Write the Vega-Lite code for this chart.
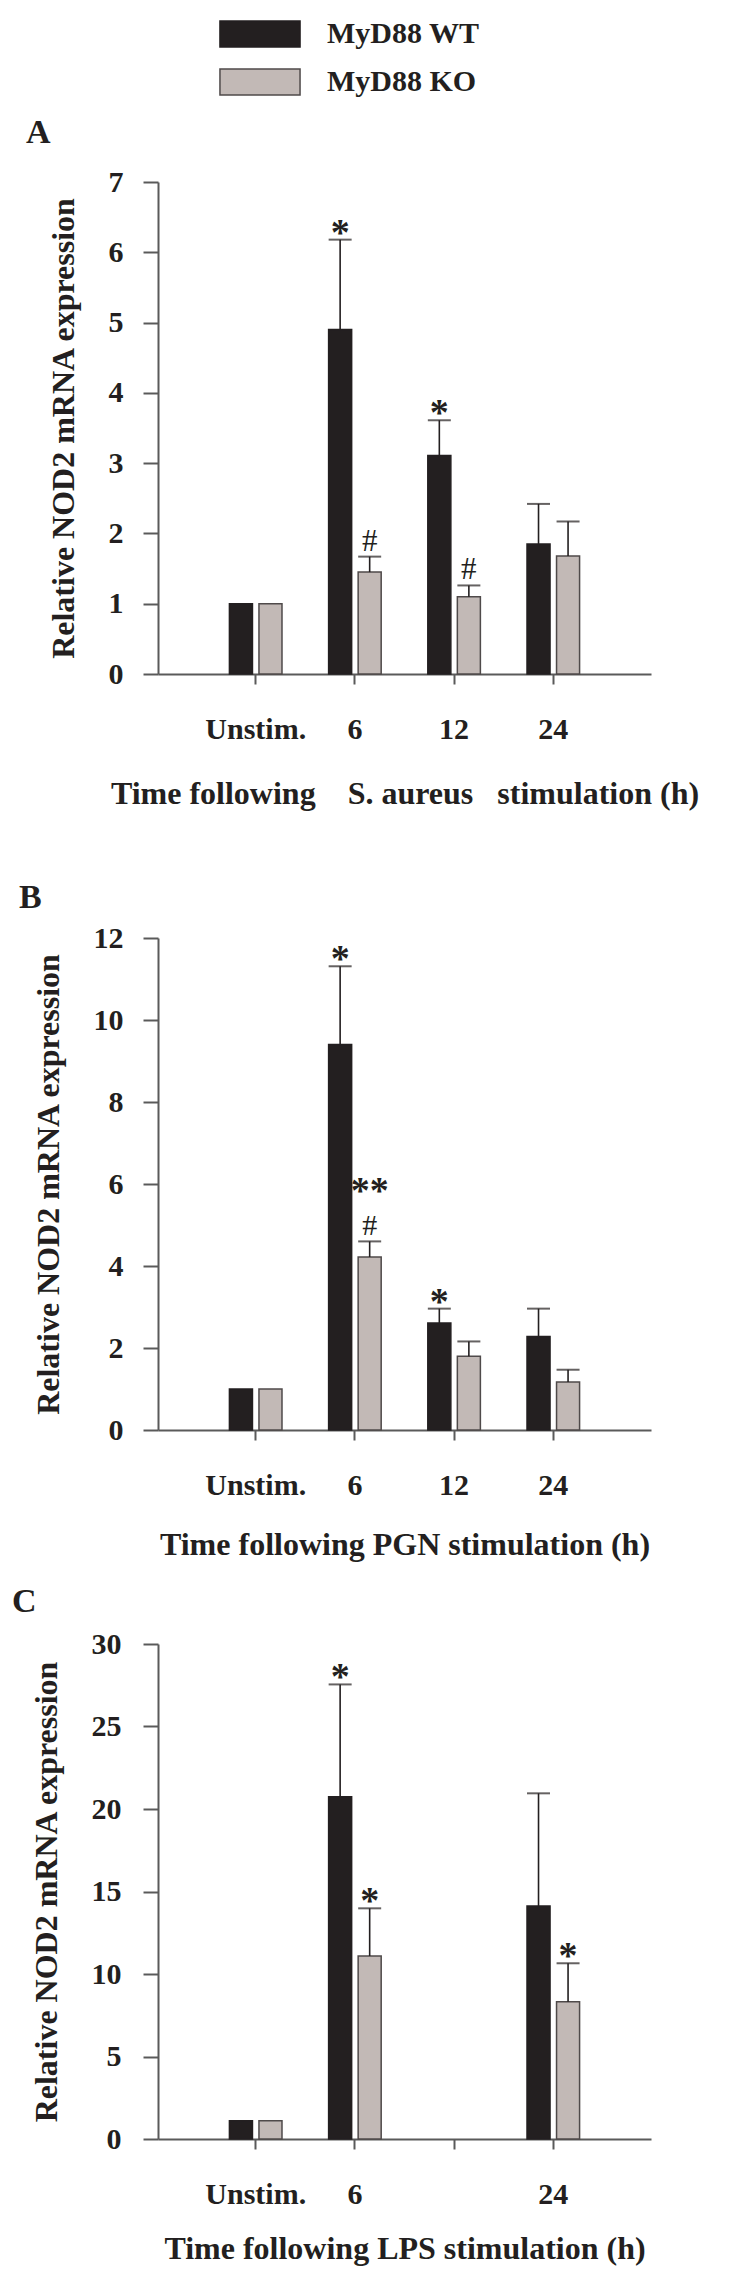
{
  "$schema": "https://vega.github.io/schema/vega-lite/v6.json",
  "background": "white",
  "padding": {"left": 12, "top": 19, "right": 5, "bottom": 5},
  "config": {
    "view": {"stroke": null},
    "font": "Liberation Serif",
    "axis": {
      "grid": false,
      "domainColor": "#5a5a5a",
      "domainWidth": 2,
      "tickColor": "#5a5a5a",
      "tickWidth": 2,
      "labelFont": "Liberation Serif",
      "labelFontWeight": "bold",
      "labelFontSize": 30,
      "labelColor": "#231f20",
      "titleFont": "Liberation Serif",
      "titleFontWeight": "bold",
      "titleFontSize": 32,
      "titleColor": "#231f20"
    },
    "title": {"font": "Liberation Serif", "fontWeight": "bold", "fontSize": 34, "color": "#231f20", "anchor": "start", "frame": "group"}
  },
  "datasets": {
    "d": [
      {"panel": "A", "time": "Unstim.", "group": "MyD88 WT", "value": 1.0},
      {"panel": "A", "time": "Unstim.", "group": "MyD88 KO", "value": 1.0},
      {"panel": "A", "time": "6", "group": "MyD88 WT", "value": 4.9, "upper": 6.18, "star": "*"},
      {"panel": "A", "time": "6", "group": "MyD88 KO", "value": 1.45, "upper": 1.67, "hash": "#"},
      {"panel": "A", "time": "12", "group": "MyD88 WT", "value": 3.11, "upper": 3.61, "star": "*"},
      {"panel": "A", "time": "12", "group": "MyD88 KO", "value": 1.1, "upper": 1.26, "hash": "#"},
      {"panel": "A", "time": "24", "group": "MyD88 WT", "value": 1.85, "upper": 2.42},
      {"panel": "A", "time": "24", "group": "MyD88 KO", "value": 1.68, "upper": 2.17},
      {"panel": "B", "time": "Unstim.", "group": "MyD88 WT", "value": 1.0},
      {"panel": "B", "time": "Unstim.", "group": "MyD88 KO", "value": 1.0},
      {"panel": "B", "time": "6", "group": "MyD88 WT", "value": 9.4, "upper": 11.31, "star": "*"},
      {"panel": "B", "time": "6", "group": "MyD88 KO", "value": 4.22, "upper": 4.6, "hash": "#", "star": "**"},
      {"panel": "B", "time": "12", "group": "MyD88 WT", "value": 2.61, "upper": 2.96, "star": "*"},
      {"panel": "B", "time": "12", "group": "MyD88 KO", "value": 1.8, "upper": 2.16},
      {"panel": "B", "time": "24", "group": "MyD88 WT", "value": 2.28, "upper": 2.96},
      {"panel": "B", "time": "24", "group": "MyD88 KO", "value": 1.17, "upper": 1.47},
      {"panel": "C", "time": "Unstim.", "group": "MyD88 WT", "value": 1.1},
      {"panel": "C", "time": "Unstim.", "group": "MyD88 KO", "value": 1.1},
      {"panel": "C", "time": "6", "group": "MyD88 WT", "value": 20.75, "upper": 27.55, "star": "*"},
      {"panel": "C", "time": "6", "group": "MyD88 KO", "value": 11.09, "upper": 13.98, "star": "*"},
      {"panel": "C", "time": "24", "group": "MyD88 WT", "value": 14.12, "upper": 20.95},
      {"panel": "C", "time": "24", "group": "MyD88 KO", "value": 8.32, "upper": 10.65, "star": "*"}
    ]
  },
  "data": {"name": "d"},
  "spacing": 264,
  "bounds": "flush",
  "resolve": {"scale": {"x": "independent", "y": "independent", "xOffset": "independent", "fill": "shared", "stroke": "shared"}, "legend": {"fill": "shared"}},
  "vconcat": [
    {
      "title": {"text": "A", "dx": -132, "offset": 17},
      "width": 493,
      "height": 492,
      "transform": [{"filter": "datum.panel === 'A'"}],
      "encoding": {
        "x": {"field": "time", "type": "nominal", "scale": {"domain": ["Unstim.", "6", "12", "24"], "paddingInner": 0.47, "paddingOuter": 0.72},
          "axis": {"title": "Time following\u00a0\u00a0\u00a0 S. aureus\u00a0\u00a0 stimulation (h)", "labelAngle": 0, "tickSize": 10, "labelPadding": 30, "titlePadding": 34}},
        "xOffset": {"field": "group", "type": "nominal", "scale": {"domain": ["MyD88 WT", "MyD88 KO"], "paddingInner": 0.22, "paddingOuter": 0}}
      },
      "layer": [
        {
          "mark": {"type": "bar", "strokeWidth": 1.5},
          "encoding": {
            "y": {"field": "value", "type": "quantitative", "title": "Relative NOD2 mRNA expression", "scale": {"domain": [0, 7], "nice": false},
              "axis": {"values": [0, 1, 2, 3, 4, 5, 6, 7], "format": "d", "tickSize": 15, "labelPadding": 20, "titlePadding": 28}},
            "fill": {"field": "group", "type": "nominal", "scale": {"domain": ["MyD88 WT", "MyD88 KO"], "range": ["#231f20", "#c2b9b6"]},
              "legend": {"orient": "none", "legendX": 87, "legendY": -163, "title": null, "direction": "vertical", "symbolType": "M-3.08,-1H3.08V1H-3.08Z", "symbolSize": 676, "symbolStrokeColor": "#3a3a3a", "symbolStrokeWidth": 1.5, "labelFont": "Liberation Serif", "labelFontWeight": "bold", "labelFontSize": 30, "labelColor": "#231f20", "labelOffset": 52, "rowPadding": 16, "padding": 0}},
            "stroke": {"field": "group", "type": "nominal", "scale": {"domain": ["MyD88 WT", "MyD88 KO"], "range": ["#231f20", "#4f4a4a"]}, "legend": null}
          }
        },
        {
          "transform": [{"filter": "isValid(datum.upper)"}],
          "mark": {"type": "rule", "strokeWidth": 1.6, "color": "#231f20"},
          "encoding": {"y": {"field": "value", "type": "quantitative", "title": "Relative NOD2 mRNA expression"}, "y2": {"field": "upper"}}
        },
        {
          "transform": [{"filter": "isValid(datum.upper)"}],
          "mark": {"type": "tick", "size": 23, "thickness": 2, "color": "#231f20"},
          "encoding": {"y": {"field": "upper", "type": "quantitative", "title": "Relative NOD2 mRNA expression"}}
        },
        {
          "transform": [{"filter": "isValid(datum.star) && !isValid(datum.hash)"}],
          "mark": {"type": "text", "fontSize": 38, "fontWeight": "bold", "baseline": "alphabetic", "dy": 5, "color": "#231f20"},
          "encoding": {"y": {"field": "upper", "type": "quantitative", "title": "Relative NOD2 mRNA expression"}, "text": {"field": "star"}}
        },
        {
          "transform": [{"filter": "isValid(datum.hash)"}],
          "mark": {"type": "text", "fontSize": 31, "fontWeight": "normal", "baseline": "alphabetic", "dy": -6, "color": "#231f20"},
          "encoding": {"y": {"field": "upper", "type": "quantitative", "title": "Relative NOD2 mRNA expression"}, "text": {"field": "hash"}}
        }
      ]
    },
    {
      "spacing": 214,
      "bounds": "flush",
      "resolve": {"scale": {"x": "independent", "y": "independent", "xOffset": "independent", "fill": "shared", "stroke": "shared"}, "legend": {"fill": "shared"}},
      "vconcat": [
        {
          "title": {"text": "B", "dx": -139, "offset": 8},
          "width": 493,
          "height": 492,
          "transform": [{"filter": "datum.panel === 'B'"}],
          "encoding": {
            "x": {"field": "time", "type": "nominal", "scale": {"domain": ["Unstim.", "6", "12", "24"], "paddingInner": 0.47, "paddingOuter": 0.72},
              "axis": {"title": "Time following PGN stimulation (h)", "labelAngle": 0, "tickSize": 10, "labelPadding": 30, "titlePadding": 29}},
            "xOffset": {"field": "group", "type": "nominal", "scale": {"domain": ["MyD88 WT", "MyD88 KO"], "paddingInner": 0.22, "paddingOuter": 0}}
          },
          "layer": [
            {
              "mark": {"type": "bar", "strokeWidth": 1.5},
              "encoding": {
                "y": {"field": "value", "type": "quantitative", "title": "Relative NOD2 mRNA expression", "scale": {"domain": [0, 12], "nice": false},
                  "axis": {"values": [0, 2, 4, 6, 8, 10, 12], "format": "d", "tickSize": 15, "labelPadding": 20, "titlePadding": 28}},
                "fill": {"field": "group", "type": "nominal", "scale": {"domain": ["MyD88 WT", "MyD88 KO"], "range": ["#231f20", "#c2b9b6"]},
                  "legend": {"orient": "none", "legendX": 87, "legendY": -163, "title": null, "direction": "vertical", "symbolType": "M-3.08,-1H3.08V1H-3.08Z", "symbolSize": 676, "symbolStrokeColor": "#3a3a3a", "symbolStrokeWidth": 1.5, "labelFont": "Liberation Serif", "labelFontWeight": "bold", "labelFontSize": 30, "labelColor": "#231f20", "labelOffset": 52, "rowPadding": 16, "padding": 0}},
                "stroke": {"field": "group", "type": "nominal", "scale": {"domain": ["MyD88 WT", "MyD88 KO"], "range": ["#231f20", "#4f4a4a"]}, "legend": null}
              }
            },
            {
              "transform": [{"filter": "isValid(datum.upper)"}],
              "mark": {"type": "rule", "strokeWidth": 1.6, "color": "#231f20"},
              "encoding": {"y": {"field": "value", "type": "quantitative", "title": "Relative NOD2 mRNA expression"}, "y2": {"field": "upper"}}
            },
            {
              "transform": [{"filter": "isValid(datum.upper)"}],
              "mark": {"type": "tick", "size": 23, "thickness": 2, "color": "#231f20"},
              "encoding": {"y": {"field": "upper", "type": "quantitative", "title": "Relative NOD2 mRNA expression"}}
            },
            {
              "transform": [{"filter": "isValid(datum.star) && !isValid(datum.hash)"}],
              "mark": {"type": "text", "fontSize": 38, "fontWeight": "bold", "baseline": "alphabetic", "dy": 5, "color": "#231f20"},
              "encoding": {"y": {"field": "upper", "type": "quantitative", "title": "Relative NOD2 mRNA expression"}, "text": {"field": "star"}}
            },
            {
              "transform": [{"filter": "isValid(datum.hash)"}],
              "mark": {"type": "text", "fontSize": 30, "fontWeight": "normal", "baseline": "alphabetic", "dy": -6, "color": "#231f20"},
              "encoding": {"y": {"field": "upper", "type": "quantitative", "title": "Relative NOD2 mRNA expression"}, "text": {"field": "hash"}}
            },
            {
              "transform": [{"filter": "isValid(datum.star) && isValid(datum.hash)"}],
              "mark": {"type": "text", "fontSize": 38, "fontWeight": "bold", "baseline": "alphabetic", "dy": -38, "color": "#231f20"},
              "encoding": {"y": {"field": "upper", "type": "quantitative", "title": "Relative NOD2 mRNA expression"}, "text": {"field": "star"}}
            }
          ]
        },
        {
          "title": {"text": "C", "dx": -146, "offset": 10},
          "width": 493,
          "height": 495,
          "transform": [{"filter": "datum.panel === 'C'"}],
          "encoding": {
            "x": {"field": "time", "type": "nominal", "scale": {"domain": ["Unstim.", "6", "12", "24"], "paddingInner": 0.47, "paddingOuter": 0.72},
              "axis": {"title": "Time following LPS stimulation (h)", "labelAngle": 0, "tickSize": 10, "labelPadding": 30, "titlePadding": 24, "labelExpr": "datum.value === '12' ? '' : datum.value"}},
            "xOffset": {"field": "group", "type": "nominal", "scale": {"domain": ["MyD88 WT", "MyD88 KO"], "paddingInner": 0.22, "paddingOuter": 0}}
          },
          "layer": [
            {
              "mark": {"type": "bar", "strokeWidth": 1.5},
              "encoding": {
                "y": {"field": "value", "type": "quantitative", "title": "Relative NOD2 mRNA expression", "scale": {"domain": [0, 30], "nice": false},
                  "axis": {"values": [0, 5, 10, 15, 20, 25, 30], "format": "d", "tickSize": 15, "labelPadding": 22, "titlePadding": 28}},
                "fill": {"field": "group", "type": "nominal", "scale": {"domain": ["MyD88 WT", "MyD88 KO"], "range": ["#231f20", "#c2b9b6"]},
                  "legend": {"orient": "none", "legendX": 87, "legendY": -163, "title": null, "direction": "vertical", "symbolType": "M-3.08,-1H3.08V1H-3.08Z", "symbolSize": 676, "symbolStrokeColor": "#3a3a3a", "symbolStrokeWidth": 1.5, "labelFont": "Liberation Serif", "labelFontWeight": "bold", "labelFontSize": 30, "labelColor": "#231f20", "labelOffset": 52, "rowPadding": 16, "padding": 0}},
                "stroke": {"field": "group", "type": "nominal", "scale": {"domain": ["MyD88 WT", "MyD88 KO"], "range": ["#231f20", "#4f4a4a"]}, "legend": null}
              }
            },
            {
              "transform": [{"filter": "isValid(datum.upper)"}],
              "mark": {"type": "rule", "strokeWidth": 1.6, "color": "#231f20"},
              "encoding": {"y": {"field": "value", "type": "quantitative", "title": "Relative NOD2 mRNA expression"}, "y2": {"field": "upper"}}
            },
            {
              "transform": [{"filter": "isValid(datum.upper)"}],
              "mark": {"type": "tick", "size": 23, "thickness": 2, "color": "#231f20"},
              "encoding": {"y": {"field": "upper", "type": "quantitative", "title": "Relative NOD2 mRNA expression"}}
            },
            {
              "transform": [{"filter": "isValid(datum.star) && !isValid(datum.hash)"}],
              "mark": {"type": "text", "fontSize": 38, "fontWeight": "bold", "baseline": "alphabetic", "dy": 5, "color": "#231f20"},
              "encoding": {"y": {"field": "upper", "type": "quantitative", "title": "Relative NOD2 mRNA expression"}, "text": {"field": "star"}}
            }
          ]
        }
      ]
    }
  ]
}
